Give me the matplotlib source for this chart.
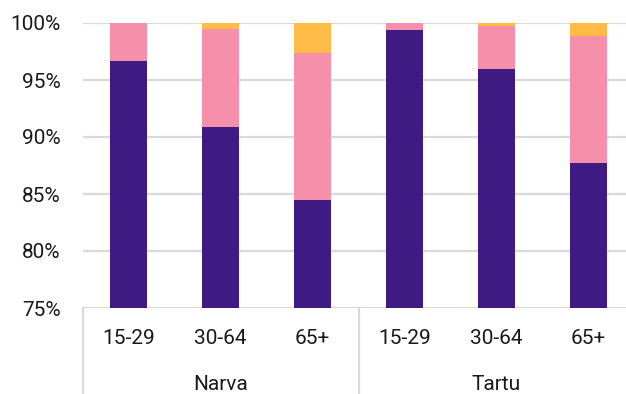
import matplotlib
matplotlib.use("Agg")
import matplotlib.pyplot as plt
from matplotlib.ticker import FuncFormatter
from matplotlib.lines import Line2D
import matplotlib.transforms as mtransforms

plt.rcParams['font.family'] = ['Roboto', 'DejaVu Sans']

groups = ["Narva", "Tartu"]
ages = ["15-29", "30-64", "65+"]
series1 = [96.7, 90.9, 84.5, 99.35, 96.0, 87.7]     # dark purple
series2 = [3.3, 8.55, 12.9, 0.65, 3.75, 11.2]      # pink
series3 = [0.0, 0.55, 2.6, 0.0, 0.25, 1.1]         # yellow
yticks = [75, 80, 85, 90, 95, 100]

c1, c2, c3 = "#3F1A82", "#F58FAB", "#FFBB45"
grid_c = "#D9D9D9"

W, H = 626, 394
fig = plt.figure(figsize=(W/100, H/100), dpi=100)
left_px, right_px, top_px, bot_px = 82.7, 634.6, 23, 308
ax = fig.add_axes([left_px/W, 1-bot_px/H, (right_px-left_px)/W, (bot_px-top_px)/H])

n = len(series1)
x = list(range(n))
b2 = series1
b3 = [a+b for a, b in zip(series1, series2)]
ax.bar(x, series1, width=0.4, color=c1, zorder=3)
ax.bar(x, series2, bottom=b2, width=0.4, color=c2, zorder=3)
ax.bar(x, series3, bottom=b3, width=0.4, color=c3, zorder=3)

ax.set_xlim(-0.5, n-0.5)
ax.set_ylim(75, 100)
ax.set_yticks(yticks)
ax.yaxis.set_major_formatter(FuncFormatter(lambda v, p: f"{v:.0f}%"))
ax.tick_params(axis='y', length=0, pad=16, labelsize=15, colors="#1a1a1a")
ax.set_xticks([])
for s in ax.spines.values():
    s.set_visible(False)
ax.yaxis.grid(True, color=grid_c, linewidth=1.6, zorder=0)
ax.set_axisbelow(True)

trans = mtransforms.blended_transform_factory(ax.transData, ax.transAxes)
axh = bot_px - top_px
for i in range(n):
    ax.text(i, (bot_px-339)/axh, ages[i % 3], transform=trans, ha='center', va='center',
            fontsize=15, color="#1a1a1a", clip_on=False)
for g, name in enumerate(groups):
    ax.text(g*3+1, (bot_px-384)/axh, name, transform=trans, ha='center', va='center',
            fontsize=15, color="#1a1a1a", clip_on=False)

# separators
for xs in [-0.5, 2.5, 5.5]:
    ax.add_line(Line2D([xs, xs], [0, (bot_px-H-5)/axh], transform=trans, color=grid_c,
                       linewidth=1.6, clip_on=False))

fig.savefig("out.png", dpi=100)
